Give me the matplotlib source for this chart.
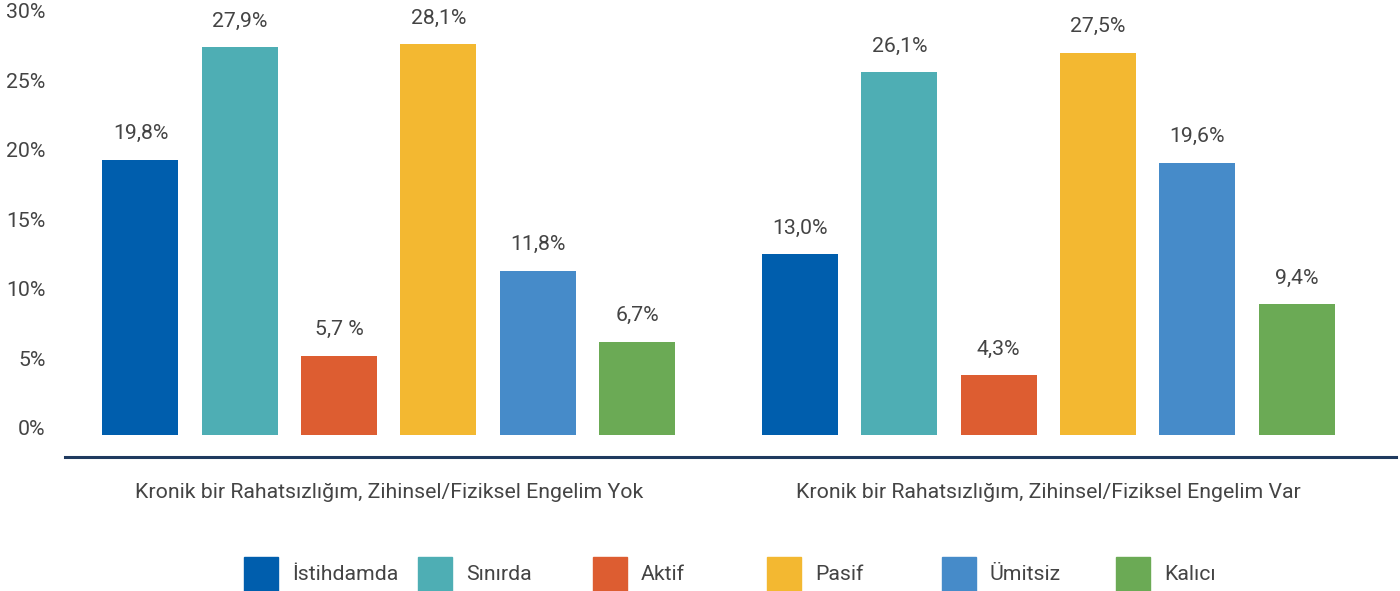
import matplotlib.pyplot as plt
from matplotlib.patches import Rectangle

plt.rcParams['font.family'] = ['Roboto', 'DejaVu Sans']

groups = ['Kronik bir Rahatsızlığım, Zihinsel/Fiziksel Engelim Yok',
          'Kronik bir Rahatsızlığım, Zihinsel/Fiziksel Engelim Var']
series = ['İstihdamda', 'Sınırda', 'Aktif', 'Pasif', 'Ümitsiz', 'Kalıcı']
colors = ['#005EAD', '#4EAEB4', '#DD5D31', '#F3B831', '#468BC9', '#6BAA55']
values_yok = [19.8, 27.9, 5.7, 28.1, 11.8, 6.7]
values_var = [13.0, 26.1, 4.3, 27.5, 19.6, 9.4]
labels_yok = ['19,8%', '27,9%', '5,7 %', '28,1%', '11,8%', '6,7%']
labels_var = ['13,0%', '26,1%', '4,3%', '27,5%', '19,6%', '9,4%']
yticks = [0, 5, 10, 15, 20, 25, 30]

text_color = '#444444'
fs = 15.3

fig = plt.figure(figsize=(14, 5.91), dpi=100)
ax = fig.add_axes([65 / 1400, 1 - 457 / 591, (1396 - 65) / 1400, 457 / 591])

group_gap = 6.64
width = 0.765
for g, (vals, labs) in enumerate([(values_yok, labels_yok), (values_var, labels_var)]):
    xs = [g * group_gap + i for i in range(len(series))]
    ax.bar(xs, vals, width=width, color=colors, zorder=2)
    for x, v, lab in zip(xs, vals, labs):
        ax.annotate(lab, (x, v), xytext=(0, 12), textcoords='offset points',
                    ha='center', va='bottom', fontsize=fs, color=text_color)

ax.set_xlim(-0.76, 12.64)
ax.set_ylim(-1.58, 31.3)

ax.set_yticks(yticks)
ax.set_yticklabels([f'{t}%' for t in yticks], fontsize=fs, color=text_color)
plt.setp(ax.get_yticklabels(), va='baseline')
ax.tick_params(axis='y', length=0, pad=14)

ax.set_xticks([2.5, group_gap + 2.5])
ax.set_xticklabels(groups, fontsize=fs, color=text_color)
ax.tick_params(axis='x', length=0, pad=19)

for side in ['top', 'right', 'left']:
    ax.spines[side].set_visible(False)
ax.spines['bottom'].set_color('#1F3A5F')
ax.spines['bottom'].set_linewidth(2.2)

# legend drawn by hand: fixed slot width per entry
for i, (name, c) in enumerate(zip(series, colors)):
    x0 = 244 + i * 174.4
    fig.add_artist(Rectangle((x0 / 1400, 0), 34 / 1400, 34 / 591,
                             transform=fig.transFigure, color=c))
    fig.text((x0 + 48) / 1400, (591 - 575) / 591, name, fontsize=fs,
             color=text_color, va='center', ha='left')

fig.savefig('out.png', dpi=100)
